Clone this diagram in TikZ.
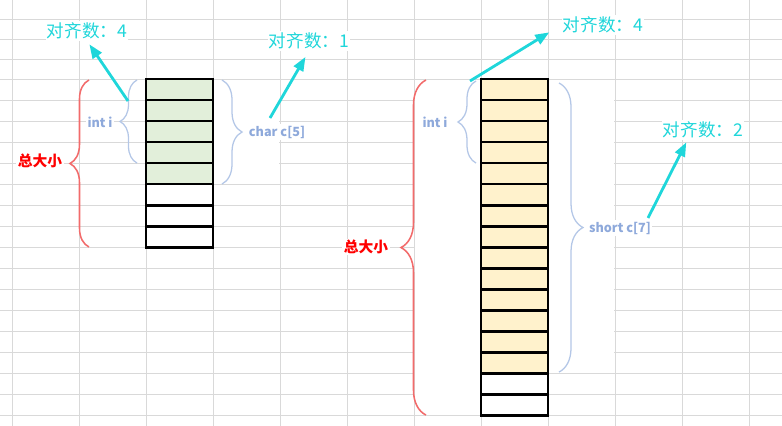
\documentclass[tikz,border=0pt]{standalone}
\usepackage{fontspec}
\setmainfont{Noto Sans CJK SC}
\usepackage{xcolor}
\usepackage{tikz}
\usetikzlibrary{positioning,arrows.meta,calc}
\usetikzlibrary{decorations.pathreplacing}

\definecolor{gridgray}{HTML}{D9D9D9}
\definecolor{cellgreen}{HTML}{E2EFDA}
\definecolor{cellyellow}{HTML}{FFF2CC}
\definecolor{bracered}{HTML}{F26B6B}
\definecolor{braceblue}{HTML}{B4C7E7}
\definecolor{labelblue}{HTML}{8EA9DB}
\definecolor{aligncyan}{HTML}{1FD6DA}

\begin{document}
\begin{tikzpicture}[x=0.025cm, y=-0.025cm,
                gridline/.style = {draw=gridgray, line width=0.7pt},
                cell/.style = {draw, line width=2.1pt, minimum width=1.675cm, minimum height=0.525cm, inner sep=0pt, outer sep=0pt},
                sizebrace/.style = {draw=bracered, line width=1.1pt, decorate, decoration={brace, amplitude=#1}},
                membrace/.style = {draw=braceblue, line width=0.9pt, decorate, decoration={brace, amplitude=#1}},
                sizelabel/.style = {text=red, font=\fontsize{10.5}{12}\selectfont\bfseries, fill=white, inner sep=1pt},
                memlabel/.style = {text=labelblue, font=\fontsize{9}{11}\selectfont\bfseries, fill=white, inner sep=1pt},
                alignlabel/.style = {text=aligncyan, font=\fontsize{12.5}{14}\selectfont, fill=white, inner sep=1pt},
                alignarrow/.style = {draw=aligncyan, line width=2pt, -{Triangle[length=10pt,width=7.5pt]}}]
            \useasboundingbox (0,0) rectangle (782,426);
            % sheet grid
            \foreach \x in {12,79,...,749}
                \draw[gridline] (\x,0) -- (\x,426);
            \foreach \y in {19,39.5,59.5}
                \draw[gridline] (0,\y) -- (782,\y);
            \foreach \y in {79,100,...,415}
                \draw[gridline] (0,\y) -- (782,\y);
            \fill[white] (213.6,80.6) rectangle (279.4,183.4);
            \fill[white] (414.6,80.6) rectangle (480.4,414.4);
            \fill[white] (548.6,80.6) rectangle (614.4,372.4);

            % struct with char c[5]
            \node[cell, fill=cellgreen] (a0) at (179.5,89.5) {};
            \foreach \i [count=\j from 0] in {1,...,7} {
                \ifnum\i<5 \def\cellfill{cellgreen}\else\def\cellfill{white}\fi
                \node[cell, fill=\cellfill, below=0pt of a\j] (a\i) {};
            }
            \draw[sizebrace=0.475cm] ($(a7.south west)+(-57,0)$) -- ($(a0.north west)+(-57,1)$);
            \draw[membrace=0.425cm] ($(a3.south west)+(-9,0)$) -- ($(a0.north west)+(-9,1)$);
            \draw[membrace=0.5cm] ($(a0.north east)+(9,1)$) -- ($(a4.south east)+(9,0)$);
            \node[sizelabel] (sz1) at (40,161) {总大小};
            \node[memlabel] (m1) at (100,122) {int i};
            \node[memlabel] (m2) at (277,132) {char c[5]};

            % struct with short c[7]
            \node[cell, fill=cellyellow] (b0) at (514.5,89.5) {};
            \foreach \i [count=\j from 0] in {1,...,15} {
                \ifnum\i<14 \def\cellfill{cellyellow}\else\def\cellfill{white}\fi
                \node[cell, fill=\cellfill, below=0pt of b\j] (b\i) {};
            }
            \draw[sizebrace=0.625cm] ($(b15.south west)+(-55,0)$) -- ($(b0.north west)+(-55,1)$);
            \draw[membrace=0.45cm] ($(b3.south west)+(-5,0)$) -- ($(b0.north west)+(-5,2)$);
            \draw[membrace=0.6cm] ($(b0.north east)+(11,4)$) -- ($(b13.south east)+(11,-1)$);
            \node[sizelabel] (sz2) at (366,247) {总大小};
            \node[memlabel] (m3) at (435,122) {int i};
            \node[memlabel] (m4) at (620,228) {short c[7]};

            % alignment notes
            \node[alignlabel] (al1) at (87,31) {对齐数：4};
            \node[alignlabel] (al2) at (309,41) {对齐数：1};
            \node[alignlabel] (al3) at (603,25) {对齐数：4};
            \node[alignlabel] (al4) at (703,130) {对齐数：2};
            \coordinate (t1) at (128,101);
            \coordinate (t2) at (270,118);
            \coordinate (t3) at (470,81);
            \coordinate (t4) at (648,218);
            \draw[alignarrow, shorten >=3pt] (t1) -- (al1.south);
            \draw[alignarrow, shorten >=5pt] (t2) -- (al2.south);
            \draw[alignarrow, shorten >=10pt] (t3) -- (al3.west);
            \draw[alignarrow, shorten >=2pt] (t4) -- ([xshift=-11pt]al4.south);
\end{tikzpicture}
\end{document}
